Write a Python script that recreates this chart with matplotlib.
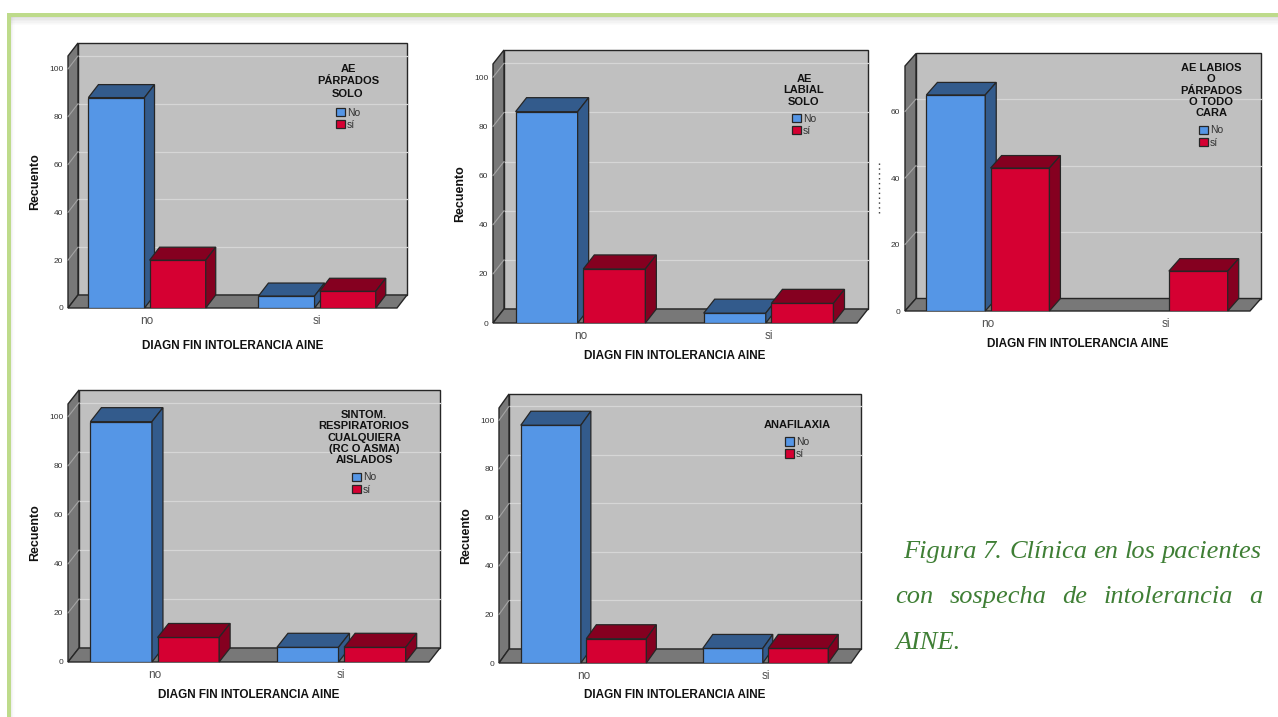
import numpy as np
import matplotlib
matplotlib.use("Agg")
import matplotlib.pyplot as plt
from matplotlib.patches import Polygon, Rectangle
from matplotlib.lines import Line2D

plt.rcParams['font.family'] = ['Liberation Sans', 'DejaVu Sans']

# ---------------- data ----------------
categories = ["no", "si"]
series_labels = ["No", "sí"]
x_label = "DIAGN FIN INTOLERANCIA AINE"
y_label = "Recuento"

titles = [
    "AE\nPÁRPADOS\nSOLO",
    "AE\nLABIAL\nSOLO",
    "AE LABIOS\nO\nPÁRPADOS\nO TODO\nCARA",
    "SINTOM.\nRESPIRATORIOS\nCUALQUIERA\n(RC O ASMA)\nAISLADOS",
    "ANAFILAXIA",
]

parpados_no = [88, 5]
parpados_si = [20, 7]
labial_no = [86, 4]
labial_si = [22, 8]
labios_cara_no = [65, 0]
labios_cara_si = [43, 12]
respiratorios_no = [98, 6]
respiratorios_si = [10, 6]
anafilaxia_no = [98, 6]
anafilaxia_si = [10, 6]

yticks_100 = [0, 20, 40, 60, 80, 100]
yticks_60 = [0, 20, 40, 60]

caption_lines = ["Figura 7. Clínica en los pacientes",
                 "con sospecha de intolerancia a",
                 "AINE."]

# ---------------- style ----------------
W, H = 1278, 717
WALL = "#c0c0c0"
DARK = "#787878"
EDGE = "#262626"
GRID = "#d6d6d6"
GRID_SIDE = "#a4a4a4"
BLUE, BLUE_D = "#5596e6", "#335b8c"
RED, RED_D = "#d50032", "#850020"
GREEN_TXT = "#3f7f35"

fig = plt.figure(figsize=(W / 100, H / 100), dpi=100)
fig.patch.set_facecolor("white")


def px_rect(x, y, w, h, **kw):
    r = Rectangle((x / W, 1 - (y + h) / H), w / W, h / H,
                  transform=fig.transFigure, **kw)
    fig.add_artist(r)
    return r


# frame: green border with soft shadow
for k, a in enumerate([0.24, 0.18, 0.13, 0.09, 0.05, 0.03]):
    px_rect(11, 17 + k * 1.4, W - 11, 1.4, fc="#808080", ec="none", alpha=a, zorder=0)
    px_rect(11 + k * 0.6, 17, 0.6, H - 17, fc="#808080", ec="none", alpha=a * 0.5, zorder=0)
px_rect(7, 13, W - 7, 4, fc="#bedb8b", ec="none", zorder=1)
px_rect(7, 13, 4, H - 13, fc="#bedb8b", ec="none", zorder=1)

layouts = [
    dict(box=(68, 56, 397, 308), depth=(10, 13), ymax=105.4, ticks=yticks_100,
         leg=(348, 66), lsp=1.3, gap=9, ylab=True, xlab_off=38),
    dict(box=(493, 64, 857, 323), depth=(11, 14), ymax=105.4, ticks=yticks_100,
         leg=(804, 76), lsp=1.17, gap=7, ylab=True, xlab_off=33),
    dict(box=(905, 66, 1250, 311), depth=(11, 12.5), ymax=73.7, ticks=yticks_60,
         leg=(1211, 65), lsp=1.17, gap=7, ylab=False, xlab_off=33),
    dict(box=(68, 404, 429, 662), depth=(11, 14), ymax=105.2, ticks=yticks_100,
         leg=(364, 412), lsp=1.17, gap=7, ylab=True, xlab_off=33),
    dict(box=(499, 408, 851, 663), depth=(10, 14), ymax=105.1, ticks=yticks_100,
         leg=(797, 422), lsp=1.17, gap=7, ylab=True, xlab_off=32),
]

chart_data = [
    (parpados_no, parpados_si),
    (labial_no, labial_si),
    (labios_cara_no, labios_cara_si),
    (respiratorios_no, respiratorios_si),
    (anafilaxia_no, anafilaxia_si),
]

XMIN, XMAX = -0.465, 1.47
BAR_W, BAR_OFF = 0.33, 0.18

renderer = fig.canvas.get_renderer()


def draw_chart(lay, vals_no, vals_si, title):
    x1, y1, x2, y2 = lay["box"]
    ax = fig.add_axes([x1 / W, 1 - y2 / H, (x2 - x1) / W, (y2 - y1) / H])
    ymax = lay["ymax"]
    ax.set_xlim(XMIN, XMAX)
    ax.set_ylim(0, ymax)
    ax.patch.set_visible(False)
    for s in ax.spines.values():
        s.set_visible(False)
    dx, dy = lay["depth"]
    ddx = dx / (x2 - x1) * (XMAX - XMIN)
    ddy = dy / (y2 - y1) * ymax
    ticks = lay["ticks"]

    # back wall
    ax.add_patch(Polygon([(XMIN + ddx, ddy), (XMAX + ddx, ddy),
                          (XMAX + ddx, ymax + ddy), (XMIN + ddx, ymax + ddy)],
                         closed=True, fc=WALL, ec=EDGE, lw=1.0, zorder=1, clip_on=False))
    for t in ticks[1:]:
        ax.add_line(Line2D([XMIN + ddx, XMAX + ddx], [t + ddy, t + ddy],
                           color=GRID, lw=0.9, zorder=1.2, clip_on=False))
    # left wall
    ax.add_patch(Polygon([(XMIN, 0), (XMIN + ddx, ddy), (XMIN + ddx, ymax + ddy), (XMIN, ymax)],
                         closed=True, fc=DARK, ec=EDGE, lw=1.0, zorder=2, clip_on=False))
    for t in ticks[1:]:
        ax.add_line(Line2D([XMIN, XMIN + ddx], [t, t + ddy],
                           color=GRID_SIDE, lw=0.8, zorder=2.1, clip_on=False))
    # floor
    ax.add_patch(Polygon([(XMIN, 0), (XMAX, 0), (XMAX + ddx, ddy), (XMIN + ddx, ddy)],
                         closed=True, fc=DARK, ec=EDGE, lw=1.0, zorder=2, clip_on=False))

    x = np.arange(len(categories))
    containers = []
    for i, (vals, fc, dc) in enumerate([(vals_no, BLUE, BLUE_D), (vals_si, RED, RED_D)]):
        xs = x + (-BAR_OFF if i == 0 else BAR_OFF)
        bars = ax.bar(xs, vals, BAR_W, color=fc, edgecolor=EDGE, linewidth=0.9,
                      zorder=3 + i, label=series_labels[i])
        containers.append(bars)
        for rect, v in zip(bars, vals):
            if v <= 0:
                rect.set_visible(False)
                continue
            l = rect.get_x()
            r = l + rect.get_width()
            h = rect.get_height()
            ax.add_patch(Polygon([(l, h), (r, h), (r + ddx, h + ddy), (l + ddx, h + ddy)],
                                 closed=True, fc=dc, ec=EDGE, lw=0.9, zorder=3 + i, clip_on=False))
            ax.add_patch(Polygon([(r, 0), (r + ddx, ddy), (r + ddx, h + ddy), (r, h)],
                                 closed=True, fc=dc, ec=EDGE, lw=0.9, zorder=3 + i, clip_on=False))

    ax.set_xticks(x, categories)
    ax.set_yticks(ticks)
    ax.tick_params(axis="y", length=0, labelsize=6, labelcolor="#333333", pad=3.5)
    ax.tick_params(axis="x", length=0, labelsize=8.5, labelcolor="#505050", pad=5)

    if lay["ylab"]:
        ax.text(-33 / (x2 - x1), 0.5, y_label, transform=ax.transAxes, rotation=90,
                ha="center", va="center", fontsize=9, fontweight="bold", color="#111111")
    ax.text(0.5, -lay["xlab_off"] / (y2 - y1), x_label, transform=ax.transAxes,
            ha="center", va="center", fontsize=8.5, fontweight="bold", color="#111111")

    # legend title (centered multi-line) + entries below it
    cx, ctop = lay["leg"]
    ttl = ax.text((cx - x1) / (x2 - x1), (y2 - (ctop - 2)) / (y2 - y1), title,
                  transform=ax.transAxes, ha="center", va="top", multialignment="center",
                  fontsize=8, fontweight="bold", linespacing=lay["lsp"], color="#111111",
                  zorder=10)
    bb = ttl.get_window_extent(renderer)
    leg_top_px = bb.y0 - lay["gap"]  # display coords (origin bottom)
    leg = ax.legend(handles=containers, labels=series_labels,
                    loc="upper center", bbox_to_anchor=(cx / W, leg_top_px / H),
                    bbox_transform=fig.transFigure, frameon=False,
                    fontsize=7.5, handlelength=0.85, handleheight=0.85,
                    handletextpad=0.2, labelspacing=0.2, borderpad=0, borderaxespad=0)
    for t in leg.get_texts():
        t.set_color("#333333")
    leg.set_zorder(10)
    return ax


for lay, (vn, vs), ttl in zip(layouts, chart_data, titles):
    draw_chart(lay, vn, vs, ttl)

# small clipped label artefact left of third chart
fig.add_artist(Line2D([879 / W, 879 / W], [1 - 163 / H, 1 - 213 / H], transform=fig.transFigure,
                      color="#333333", lw=1.0, linestyle=(0, (1, 2.5))))

# ---------------- caption (justified) ----------------
cap_kw = dict(fontfamily=["Liberation Serif", "DejaVu Serif"], style="italic",
              fontsize=19, color=GREEN_TXT, ha="left", va="baseline")
cap_geom = [(903, 1262, 558, True), (895, 1262, 603, True), (895, None, 649, False)]
for line, (xl, xr, yb, just) in zip(caption_lines, cap_geom):
    words = line.split(" ")
    texts = [fig.text(0, 1 - yb / H, wd, **cap_kw) for wd in words]
    widths = [t.get_window_extent(renderer).width for t in texts]
    if just and len(words) > 1:
        gap = (xr - xl - sum(widths)) / (len(words) - 1)
    else:
        gap = 5
    xc = xl
    for t, wdt in zip(texts, widths):
        t.set_x(xc / W)
        xc += wdt + gap

fig.savefig("out.png", dpi=100)
